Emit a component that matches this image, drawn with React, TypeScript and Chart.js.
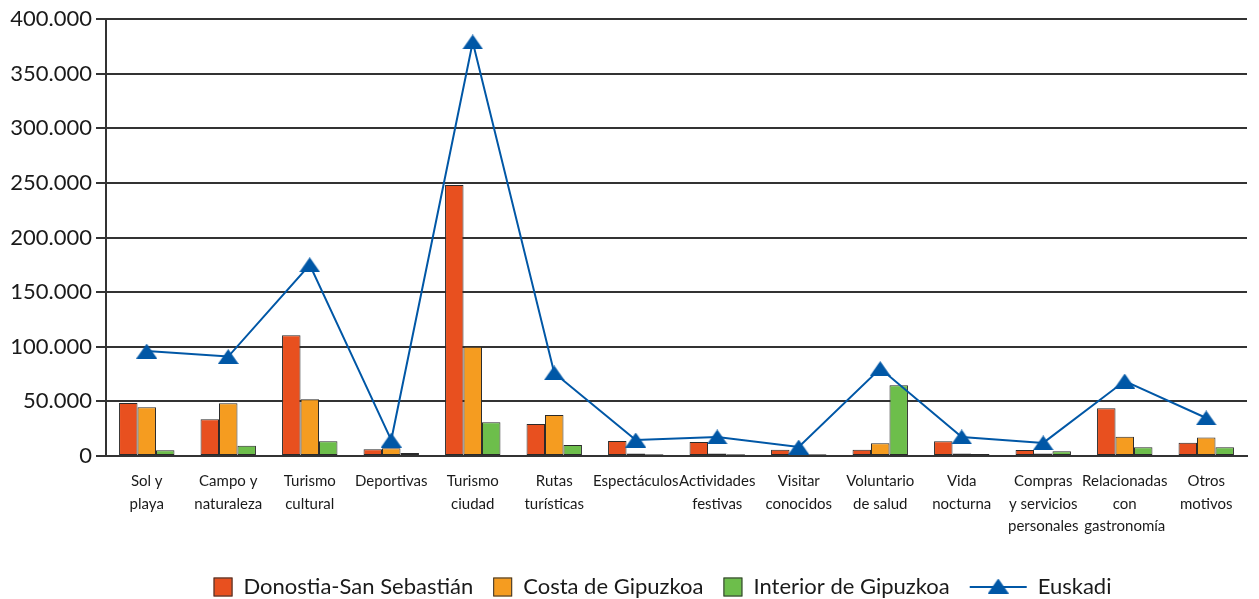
import React, { useEffect, useRef } from "react";
import { Chart, registerables } from "chart.js";

Chart.register(...registerables);

const categories: (string | string[])[] = [
  ["Sol y", "playa"],
  ["Campo y", "naturaleza"],
  ["Turismo", "cultural"],
  "Deportivas",
  ["Turismo", "ciudad"],
  ["Rutas", "turísticas"],
  "Espectáculos",
  ["Actividades", "festivas"],
  ["Visitar", "conocidos"],
  ["Voluntario", "de salud"],
  ["Vida", "nocturna"],
  ["Compras", "y servicios", "personales"],
  ["Relacionadas", "con", "gastronomía"],
  ["Otros", "motivos"],
];

const donostia = [48500, 33600, 110500, 6100, 248000, 29300, 13700, 12800, 5800, 5800, 13400, 5500, 43700, 12200];
const costa = [44600, 48200, 51900, 7000, 100000, 37500, 2400, 2400, 2700, 11600, 2400, 2400, 17700, 17000];
const interior = [5200, 9400, 13400, 2700, 31000, 10000, 1500, 1500, 1500, 64700, 1800, 4300, 8000, 8000];
const euskadi = [96000, 91000, 175000, 14600, 379000, 76000, 14600, 17400, 8200, 80000, 17400, 12000, 68600, 34800];

const seriesNames = ["Donostia-San Sebastián", "Costa de Gipuzkoa", "Interior de Gipuzkoa", "Euskadi"];
const yTicks = [0, 50000, 100000, 150000, 200000, 250000, 300000, 350000, 400000];

const RED = "#E8501F";
const ORANGE = "#F59C20";
const GREEN = "#6DBE4B";
const BLUE = "#0057A6";
const DARK = "#333333";

function makeTriangle(w: number, h: number, color: string) {
  const c = document.createElement("canvas");
  c.width = w;
  c.height = h;
  const g = c.getContext("2d")!;
  g.fillStyle = color;
  g.beginPath();
  g.moveTo(w / 2, 0);
  g.lineTo(w, h);
  g.lineTo(0, h);
  g.closePath();
  g.fill();
  return c;
}

function fmt(v: number) {
  if (v === 0) return "0";
  const s = String(Math.round(v));
  return s.replace(/\B(?=(\d{3})+(?!\d))/g, ".");
}

const legendPlugin = {
  id: "customLegend",
  afterDraw(chart: any) {
    const ctx = chart.ctx as CanvasRenderingContext2D;
    ctx.save();
    ctx.font = "22px Lato";
    ctx.textBaseline = "middle";
    ctx.textAlign = "left";
    const cy = 587;
    const box = 19;
    const lineW = 57;
    const gap = 11;
    const spacing = 20;
    const ds = chart.data.datasets;
    const widths = ds.map((d: any) => {
      const sym = d.type === "line" ? lineW : box;
      return sym + gap + ctx.measureText(d.label).width;
    });
    const total = widths.reduce((a: number, b: number) => a + b, 0) + spacing * (ds.length - 1);
    let x = (chart.width - total) / 2 + 33;
    ds.forEach((d: any, i: number) => {
      if (d.type === "line") {
        ctx.strokeStyle = BLUE;
        ctx.lineWidth = 2;
        ctx.beginPath();
        ctx.moveTo(x, cy);
        ctx.lineTo(x + lineW, cy);
        ctx.stroke();
        const tri = d.pointStyle as HTMLCanvasElement;
        ctx.drawImage(tri, x + lineW / 2 - tri.width / 2, cy - tri.height / 2 - 1);
        ctx.fillStyle = "#1a1a1a";
        ctx.fillText(d.label, x + lineW + gap, cy);
      } else {
        ctx.fillStyle = d.backgroundColor;
        ctx.fillRect(x, cy - box / 2, box, box);
        ctx.strokeStyle = DARK;
        ctx.lineWidth = 1;
        ctx.strokeRect(x + 0.5, cy - box / 2 + 0.5, box - 1, box - 1);
        ctx.fillStyle = "#1a1a1a";
        ctx.fillText(d.label, x + box + gap, cy);
      }
      x += widths[i] + spacing;
    });
    ctx.restore();
  },
};

export default function App() {
  const ref = useRef<HTMLCanvasElement | null>(null);

  useEffect(() => {
    if (!ref.current) return;
    const tri = makeTriangle(21, 15, BLUE);
    const barCommon = {
      type: "bar" as const,
      borderColor: "#2a2a2a",
      borderWidth: 1,
      borderSkipped: false,
      categoryPercentage: 0.68,
      barPercentage: 1.0,
      order: 2,
    };
    const chart = new Chart(ref.current, {
      type: "bar",
      data: {
        labels: categories,
        datasets: [
          { ...barCommon, label: seriesNames[0], data: donostia, backgroundColor: RED },
          { ...barCommon, label: seriesNames[1], data: costa, backgroundColor: ORANGE },
          { ...barCommon, label: seriesNames[2], data: interior, backgroundColor: GREEN },
          {
            type: "line" as const,
            label: seriesNames[3],
            data: euskadi,
            borderColor: BLUE,
            backgroundColor: BLUE,
            borderWidth: 2,
            pointStyle: tri as any,
            pointRadius: 10,
            tension: 0,
            order: 0,
          } as any,
        ],
      },
      options: {
        animation: false,
        responsive: true,
        maintainAspectRatio: false,
        layout: { padding: { top: 19, right: 0, left: 0, bottom: 40 } },
        plugins: {
          legend: { display: false },
          tooltip: { enabled: false },
        },
        scales: {
          x: {
            grid: { display: false },
            border: { display: true, color: DARK, width: 2 },
            ticks: {
              autoSkip: false,
              maxRotation: 0,
              minRotation: 0,
              padding: 6,
              color: "#1a1a1a",
              font: { family: "Lato, sans-serif", size: 15, lineHeight: 1.5 },
            },
            afterFit: (scale: any) => {
              scale.height = 103;
            },
          },
          y: {
            min: 0,
            max: 400000,
            afterBuildTicks: (scale: any) => {
              scale.ticks = yTicks.map((v) => ({ value: v }));
            },
            grid: {
              color: DARK,
              lineWidth: 2,
              drawTicks: true,
              tickLength: 10,
              tickColor: DARK,
              tickWidth: 2,
            },
            border: { display: true, color: DARK, width: 2 },
            ticks: {
              padding: 4,
              color: "#1a1a1a",
              font: { family: "Lato, sans-serif", size: 22 },
              callback: (v: any) => fmt(Number(v)),
            },
            afterFit: (scale: any) => {
              scale.width = 106;
            },
          },
        },
      },
      plugins: [legendPlugin],
    });
    return () => chart.destroy();
  }, []);

  return (
    <div style={{ position: "fixed", left: 0, top: 0, width: 1259, height: 599, background: "#fff" }}>
      <canvas ref={ref} />
    </div>
  );
}
